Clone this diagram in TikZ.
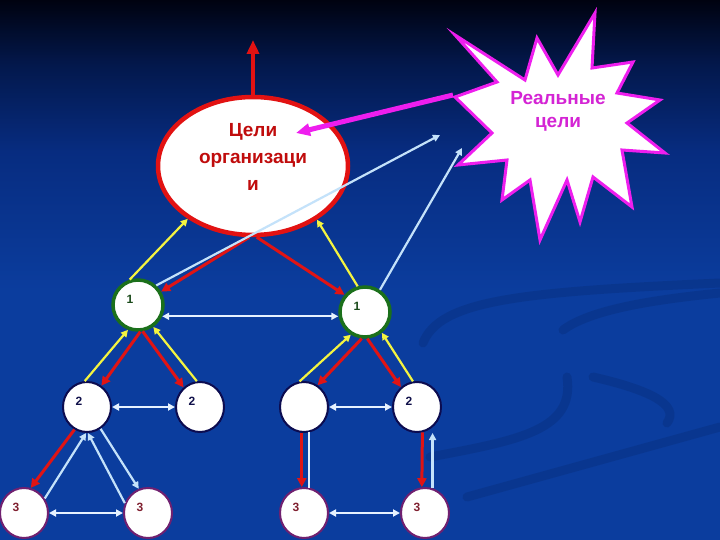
\documentclass[tikz,border=0pt]{standalone}
\usepackage{fontspec}
\setmainfont{Liberation Sans}
\usetikzlibrary{shapes.geometric,arrows.meta}

\definecolor{bgtop}{HTML}{000210}
\definecolor{bgup}{HTML}{03184C}
\definecolor{bgmid}{HTML}{072C80}
\definecolor{bgbot}{HTML}{0B3D9E}
\definecolor{goalred}{HTML}{E21212}
\definecolor{textred}{HTML}{C00C0C}
\definecolor{starpink}{HTML}{EE1EEE}
\definecolor{startext}{HTML}{D424D4}
\definecolor{lvlgreen}{HTML}{1B701B}
\definecolor{lvlnavy}{HTML}{0C0C50}
\definecolor{lvlpurple}{HTML}{702070}
\definecolor{numgreen}{HTML}{1A4A1A}
\definecolor{numnavy}{HTML}{10104A}
\definecolor{numred}{HTML}{802030}
\definecolor{arrred}{HTML}{E01414}
\definecolor{arryellow}{HTML}{F4F440}
\definecolor{arrblue}{HTML}{C4E2FA}
\definecolor{arrwhite}{HTML}{E6F2FF}

\pgfdeclareverticalshading{slidebg}{100bp}{color(0bp)=(bgbot); color(25bp)=(bgbot); color(48bp)=(bgbot); color(61bp)=(bgmid); color(69bp)=(bgup); color(75bp)=(bgtop); color(100bp)=(bgtop)}

\begin{document}
\begin{tikzpicture}[x=1pt,y=-1pt,
    goal/.style={ellipse,draw=goalred,line width=4.5pt,fill=white,minimum width=190pt,minimum height=138pt},
    goaltext/.style={align=center,text=textred,font=\bfseries\fontsize{19}{27}\selectfont,yshift=9pt},
    lvlone/.style={ellipse,draw=lvlgreen,line width=3.5pt,fill=white,minimum width=50pt,minimum height=50pt,inner sep=0pt},
    lvltwo/.style={ellipse,draw=lvlnavy,line width=2pt,fill=white,minimum width=48pt,minimum height=50pt,inner sep=0pt},
    lvlthree/.style={ellipse,draw=lvlpurple,line width=2pt,fill=white,minimum width=48pt,minimum height=50pt,inner sep=0pt},
    num/.style={font=\bfseries\fontsize{12}{14}\selectfont,xshift=-8pt,yshift=6pt},
    redarr/.style={->,>={Triangle[length=9pt,width=9pt]},draw=arrred,line width=3pt},
    yelarr/.style={->,>={Triangle[length=7pt,width=7pt]},draw=arryellow,line width=2.2pt},
    bluearr/.style={->,>={Triangle[length=7pt,width=7pt]},draw=arrblue,line width=2.2pt},
    both/.style={<->,>={Triangle[length=7pt,width=7pt]},draw=arrwhite,line width=2pt}]
  \useasboundingbox (0,0) rectangle (720,540);
  \shade[shading=slidebg] (0,0) rectangle (720,540);
  \begin{scope}[draw=bgtop,opacity=0.1,line width=9pt,line cap=round]
    \draw (467,497) -- (720,427);
    \draw (430,457) .. controls (520,440) and (575,430) .. (567,377);
    \draw (423,343) .. controls (440,300) and (520,292) .. (720,283);
    \draw (563,330) .. controls (590,310) and (650,300) .. (720,293);
    \draw (593,377) .. controls (650,390) and (680,405) .. (667,423);
  \end{scope}

  % real goals
  \draw[fill=white,draw=starpink,line width=3pt,line join=miter]
    (455,35) -- (525,80) -- (537,38) -- (558,75) -- (595,13) -- (592,68) -- (633,62)
    -- (617,93) -- (660,100) -- (627,123) -- (665,153) -- (622,150) -- (632,207)
    -- (593,177) -- (580,222) -- (567,180) -- (540,240) -- (530,180) -- (502,200)
    -- (507,160) -- (458,165) -- (492,133) -- (455,97) -- (497,82) -- cycle;
  \node[align=center,text=startext,font=\bfseries\fontsize{19}{23}\selectfont] (real) at (558,111) {Реальные\\цели};
  \coordinate (star) at (453,95);

  \node[goal,label={[goaltext]center:Цели\\организаци\\и}] (o) at (253,166) {};
  \coordinate (up) at (253,40);
  \coordinate (goalpt) at (296,133);
  \coordinate (pt1) at (440,135);
  \coordinate (pt2) at (462,148);

  \node[lvlone,label={[num,text=numgreen]center:1}] (a1) at (138,305) {};
  \node[lvlone,label={[num,text=numgreen]center:1}] (a2) at (365,312) {};

  \node[lvltwo,label={[num,text=numnavy]center:2}] (b1) at (87,407) {};
  \node[lvltwo,label={[num,text=numnavy]center:2}] (b2) at (200,407) {};
  \node[lvltwo] (b3) at (304,407) {};
  \node[lvltwo,label={[num,text=numnavy]center:2}] (b4) at (417,407) {};

  \node[lvlthree,label={[num,text=numred]center:3}] (c1) at (24,513) {};
  \node[lvlthree,label={[num,text=numred]center:3}] (c2) at (148,513) {};
  \node[lvlthree,label={[num,text=numred]center:3}] (c3) at (304,513) {};
  \node[lvlthree,label={[num,text=numred]center:3}] (c4) at (425,513) {};

  \draw[->,>={Triangle[length=14pt,width=12pt]},draw=goalred,line width=4pt] (o.north) -- (up);
  \draw[->,>={Triangle[length=14pt,width=12pt]},draw=starpink,line width=5pt] (star) -- (goalpt);

  \draw[redarr] (o.-93) -- (a1.30);
  \draw[redarr] (o.-87) -- (a2.140);
  \draw[yelarr] (a1.108) -- (o.-141);
  \draw[yelarr] (a2.106) -- (o.-40);
  \draw[bluearr] (a1.47) -- (pt1);
  \draw[bluearr] (a2.56) -- (pt2);
  \draw[both] (a1.-25) -- (a1.-25 -| a2.west);

  \draw[yelarr] (b1.95) -- (a1.-112);
  \draw[redarr] (a1.-85) -- (b1.56);
  \draw[redarr] (a1.-80) -- (b2.130);
  \draw[yelarr] (b2.97) -- (a1.-55);
  \draw[yelarr] (b3.100) -- (a2.-122);
  \draw[redarr] (a2.-97) -- (b3.58);
  \draw[redarr] (a2.-85) -- (b4.129);
  \draw[yelarr] (b4.99) -- (a2.-51);
  \draw[both] (b1.east) -- (b2.west);
  \draw[both] (b3.east) -- (b4.west);

  \draw[redarr] (b1.-119) -- (c1.75);
  \draw[bluearr] (c1.35) -- (b1.-92);
  \draw[bluearr] (c2.157) -- (b1.-88);
  \draw[bluearr] (b1.-58) -- (c2.111);
  \draw[redarr] (b3.-95) -- (c3.95);
  \draw[draw=arrwhite,line width=1.8pt] (b3.-78) -- (c3.78);
  \draw[redarr] (b4.-78) -- (c4.97);
  \draw[bluearr] (c4.73) -- (c4.73 |- b4.south);
  \draw[both] (c1.east) -- (c2.west);
  \draw[both] (c3.east) -- (c4.west);
\end{tikzpicture}
\end{document}
